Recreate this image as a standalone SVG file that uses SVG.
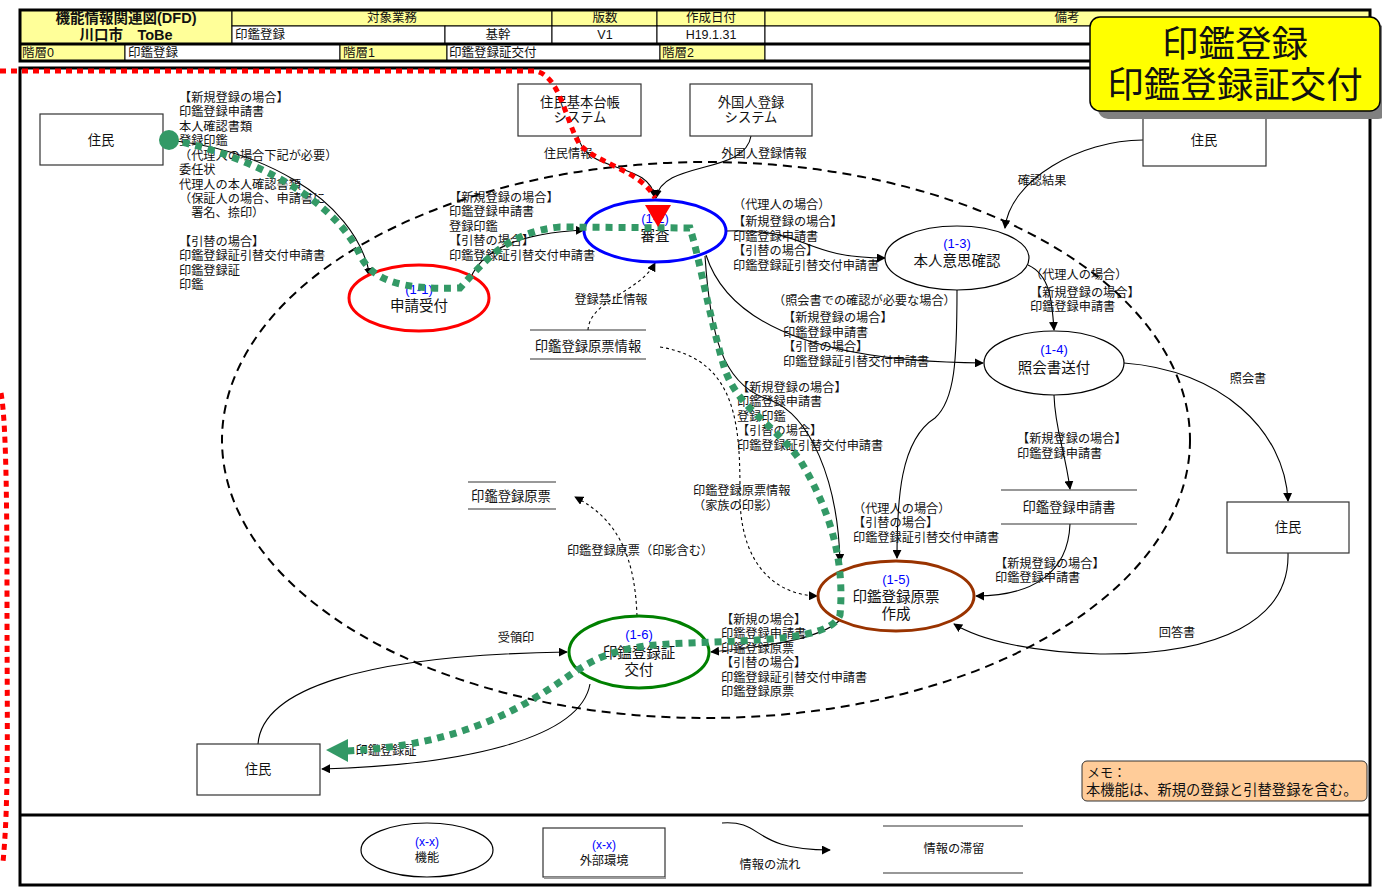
<svg xmlns="http://www.w3.org/2000/svg" width="1382" height="887" viewBox="0 0 1382 887">
  <style>
    text { font-family: "Liberation Sans", "Noto Sans CJK JP", "Noto Sans CJK SC", sans-serif; fill: #111; }
    .hd { font-size: 12.5px; }
    .hdb { font-size: 14.5px; font-weight: bold; }
    .lb { font-size: 12.2px; }
    .nd { font-size: 14.5px; }
    .bx { font-size: 13.3px; }
    .id { font-size: 13px; fill: #0000FF; }
    .c { text-anchor: middle; }
    .cell { stroke: #000; stroke-width: 1; }
    .yel { fill: #FFFF99; }
    .wht { fill: #FFFFFF; }
    .ext { fill: #fff; stroke: #333; stroke-width: 1.2; }
    .store { stroke: #333; stroke-width: 1.2; }
    .flow { fill: none; stroke: #000; stroke-width: 1.1; marker-end: url(#arr); }
    .dflow { fill: none; stroke: #000; stroke-width: 1.1; stroke-dasharray: 3 3; marker-end: url(#arr); }
    .green { fill: none; stroke: #339966; stroke-width: 7; stroke-dasharray: 7 6; }
    .red { fill: none; stroke: #FF0000; stroke-width: 5; stroke-dasharray: 6 5; }
  </style>
  <defs>
    <marker id="arr" viewBox="0 0 10 10" refX="9" refY="5" markerWidth="9" markerHeight="9" markerUnits="userSpaceOnUse" orient="auto">
      <path d="M0,0 L10,5 L0,10 z" fill="#000"/>
    </marker>
  </defs>

  <rect x="0" y="0" width="1382" height="887" fill="#fff"/>

  <!-- header table -->
  <g id="header">
    <rect class="cell yel" x="20" y="10" width="212" height="34"/>
    <rect class="cell yel" x="232" y="10" width="320" height="16"/>
    <rect class="cell yel" x="552" y="10" width="105" height="16"/>
    <rect class="cell yel" x="657" y="10" width="108" height="16"/>
    <rect class="cell yel" x="765" y="10" width="605" height="16"/>
    <rect class="cell wht" x="232" y="26" width="213" height="18"/>
    <rect class="cell wht" x="445" y="26" width="107" height="18"/>
    <rect class="cell wht" x="552" y="26" width="105" height="18"/>
    <rect class="cell wht" x="657" y="26" width="108" height="18"/>
    <rect class="cell wht" x="765" y="26" width="605" height="18"/>
    <rect class="cell yel" x="20" y="44" width="105" height="17"/>
    <rect class="cell wht" x="125" y="44" width="215" height="17"/>
    <rect class="cell yel" x="340" y="44" width="107" height="17"/>
    <rect class="cell wht" x="447" y="44" width="213" height="17"/>
    <rect class="cell yel" x="660" y="44" width="105" height="17"/>
    <rect class="cell wht" x="765" y="44" width="605" height="17"/>
    <rect x="20" y="10" width="1350" height="51" fill="none" stroke="#000" stroke-width="3"/>
    <line x1="20" y1="44" x2="1370" y2="44" stroke="#000" stroke-width="3"/>
    <text class="hdb c" x="126" y="23"><tspan x="126" y="23">機能情報関連図(DFD)</tspan><tspan x="126" y="40">川口市　ToBe</tspan></text>
    <text class="hd c" x="392" y="22">対象業務</text>
    <text class="hd c" x="605" y="22">版数</text>
    <text class="hd c" x="711" y="22">作成日付</text>
    <text class="hd c" x="1067" y="22">備考</text>
    <text class="hd" x="235" y="39">印鑑登録</text>
    <text class="hd c" x="498" y="39">基幹</text>
    <text class="hd c" x="605" y="39">V1</text>
    <text class="hd c" x="711" y="39">H19.1.31</text>
    <text class="hd" x="22" y="57">階層0</text>
    <text class="hd" x="128" y="57">印鑑登録</text>
    <text class="hd" x="343" y="57">階層1</text>
    <text class="hd" x="449" y="57">印鑑登録証交付</text>
    <text class="hd" x="662" y="57">階層2</text>
  </g>

  <!-- main frame and legend separator -->
  <g id="frame">
    <rect x="20" y="68" width="1350" height="817" fill="none" stroke="#000" stroke-width="3"/>
    <line x1="20" y1="815" x2="1370" y2="815" stroke="#000" stroke-width="3"/>
  </g>

  <!-- system boundary -->
  <ellipse id="boundary" cx="706" cy="440" rx="484" ry="278" fill="none" stroke="#000" stroke-width="2" stroke-dasharray="9 6"/>

  <!-- connectors -->
  <g id="connectors">
    <path class="flow" d="M163,140 C250,145 355,195 370,276"/>
    <path class="flow" d="M470,280 C480,250 520,233 584,230"/>
    <path class="flow" d="M578,136 C585,175 650,160 655,198"/>
    <path class="flow" d="M751,136 C745,175 662,160 656,198"/>
    <path class="dflow" d="M588,330 C590,300 640,292 655,263"/>
    <path class="dflow" d="M660,347 C740,360 740,430 740,500 C742,570 780,595 817,596"/>
    <path class="flow" d="M726,231 C810,228 800,258 885,258"/>
    <path class="flow" d="M706,255 C730,330 830,362 983,363"/>
    <path class="flow" d="M705,256 C710,330 720,385 770,400 C810,415 838,480 840,562"/>
    <path class="flow" d="M957,290 C957,360 955,400 935,418 C900,440 897,500 897,558"/>
    <path class="flow" d="M1028,265 C1050,275 1052,300 1054,330"/>
    <path class="flow" d="M1143,140 C1080,140 1010,180 1005,228"/>
    <path class="flow" d="M1124,363 C1220,370 1285,430 1288,501"/>
    <path class="flow" d="M1054,395 C1055,430 1065,450 1070,489"/>
    <path class="flow" d="M1070,524 C1068,575 1030,596 976,596"/>
    <path class="flow" d="M1288,553 C1290,620 1220,655 1100,654 C1030,652 980,640 954,624"/>
    <path class="flow" d="M840,620 C820,640 760,647 711,652"/>
    <path class="dflow" d="M637,616 C635,560 620,520 575,497"/>
    <path class="flow" d="M258,744 C262,690 360,655 567,652"/>
    <path class="flow" d="M590,684 C580,740 460,765 322,769"/>
  </g>

  <!-- connector labels -->
  <g id="labels">
    <text class="lb" x="179" y="102">
      <tspan x="179" y="102">【新規登録の場合】</tspan>
      <tspan x="179" y="116">印鑑登録申請書</tspan>
      <tspan x="179" y="131">本人確認書類</tspan>
      <tspan x="179" y="145">登録印鑑</tspan>
      <tspan x="179" y="160">（代理人の場合下記が必要）</tspan>
      <tspan x="179" y="174">委任状</tspan>
      <tspan x="179" y="189">代理人の本人確認書類</tspan>
      <tspan x="179" y="203">（保証人の場合、申請書に</tspan>
      <tspan x="179" y="217">　署名、捺印）</tspan>
      <tspan x="179" y="246">【引替の場合】</tspan>
      <tspan x="179" y="260">印鑑登録証引替交付申請書</tspan>
      <tspan x="179" y="275">印鑑登録証</tspan>
      <tspan x="179" y="289">印鑑</tspan>
    </text>

    <text class="lb" x="449" y="202">
      <tspan x="449" y="202">【新規登録の場合】</tspan>
      <tspan x="449" y="216">印鑑登録申請書</tspan>
      <tspan x="449" y="231">登録印鑑</tspan>
      <tspan x="449" y="245">【引替の場合】</tspan>
      <tspan x="449" y="260">印鑑登録証引替交付申請書</tspan>
    </text>

    <text class="lb c" x="568" y="158">住民情報</text>
    <text class="lb c" x="764" y="158">外国人登録情報</text>
    <text class="lb c" x="611" y="304">登録禁止情報</text>

    <text class="lb" x="733" y="209">
      <tspan x="733" y="209">（代理人の場合）</tspan>
      <tspan x="733" y="226">【新規登録の場合】</tspan>
      <tspan x="733" y="241">印鑑登録申請書</tspan>
      <tspan x="733" y="255">【引替の場合】</tspan>
      <tspan x="733" y="270">印鑑登録証引替交付申請書</tspan>
    </text>

    <text class="lb" x="773" y="305">
      <tspan x="773" y="305">（照会書での確認が必要な場合）</tspan>
      <tspan x="783" y="322">【新規登録の場合】</tspan>
      <tspan x="783" y="337">印鑑登録申請書</tspan>
      <tspan x="783" y="351">【引替の場合】</tspan>
      <tspan x="783" y="366">印鑑登録証引替交付申請書</tspan>
    </text>

    <text class="lb" x="737" y="392">
      <tspan x="737" y="392">【新規登録の場合】</tspan>
      <tspan x="737" y="406">印鑑登録申請書</tspan>
      <tspan x="737" y="421">登録印鑑</tspan>
      <tspan x="737" y="435">【引替の場合】</tspan>
      <tspan x="737" y="450">印鑑登録証引替交付申請書</tspan>
    </text>

    <text class="lb" x="693" y="495">
      <tspan x="693" y="495">印鑑登録原票情報</tspan>
      <tspan x="693" y="510">（家族の印影）</tspan>
    </text>

    <text class="lb" x="853" y="513">
      <tspan x="853" y="513">（代理人の場合）</tspan>
      <tspan x="853" y="527">【引替の場合】</tspan>
      <tspan x="853" y="542">印鑑登録証引替交付申請書</tspan>
    </text>

    <text class="lb c" x="1042" y="185">確認結果</text>
    <text class="lb" x="1030" y="279">
      <tspan x="1030" y="279">（代理人の場合）</tspan>
      <tspan x="1030" y="297">【新規登録の場合】</tspan>
      <tspan x="1030" y="311">印鑑登録申請書</tspan>
    </text>
    <text class="lb c" x="1248" y="383">照会書</text>
    <text class="lb" x="1017" y="443">
      <tspan x="1017" y="443">【新規登録の場合】</tspan>
      <tspan x="1017" y="458">印鑑登録申請書</tspan>
    </text>
    <text class="lb" x="995" y="568">
      <tspan x="995" y="568">【新規登録の場合】</tspan>
      <tspan x="995" y="582">印鑑登録申請書</tspan>
    </text>
    <text class="lb c" x="1177" y="637">回答書</text>

    <text class="lb c" x="640" y="555">印鑑登録原票（印影含む）</text>

    <text class="lb" x="721" y="624">
      <tspan x="721" y="624">【新規の場合】</tspan>
      <tspan x="721" y="638">印鑑登録申請書</tspan>
      <tspan x="721" y="653">印鑑登録原票</tspan>
      <tspan x="721" y="667">【引替の場合】</tspan>
      <tspan x="721" y="682">印鑑登録証引替交付申請書</tspan>
      <tspan x="721" y="696">印鑑登録原票</tspan>
    </text>

    <text class="lb c" x="516" y="642">受領印</text>
    <text class="lb c" x="386" y="755">印鑑登録証</text>
  </g>

  <!-- external entities -->
  <g id="ext-resident-1"><rect class="ext" x="40" y="114" width="123" height="51"/><text class="bx c" x="101" y="145">住民</text></g>
  <g id="ext-juki"><rect class="ext" x="518" y="84" width="123" height="52"/><text class="bx c" x="580" y="107"><tspan x="580" y="107">住民基本台帳</tspan><tspan x="580" y="122">システム</tspan></text></g>
  <g id="ext-gaikokujin"><rect class="ext" x="690" y="84" width="122" height="52"/><text class="bx c" x="751" y="107"><tspan x="751" y="107">外国人登録</tspan><tspan x="751" y="122">システム</tspan></text></g>
  <g id="ext-resident-2"><rect class="ext" x="1143" y="114" width="123" height="52"/><text class="bx c" x="1204" y="145">住民</text></g>
  <g id="ext-resident-3"><rect class="ext" x="1227" y="502" width="122" height="51"/><text class="bx c" x="1288" y="532">住民</text></g>
  <g id="ext-resident-4"><rect class="ext" x="197" y="744" width="123" height="51"/><text class="bx c" x="258" y="774">住民</text></g>

  <!-- data stores -->
  <g id="store-genpyo-info">
    <line class="store" x1="530" y1="330" x2="646" y2="330"/><line class="store" x1="530" y1="359" x2="646" y2="359"/>
    <text class="bx c" x="588" y="351">印鑑登録原票情報</text>
  </g>
  <g id="store-shinseisho">
    <line class="store" x1="1001" y1="490" x2="1137" y2="490"/><line class="store" x1="1001" y1="524" x2="1137" y2="524"/>
    <text class="bx c" x="1069" y="512">印鑑登録申請書</text>
  </g>
  <g id="store-genpyo">
    <line class="store" x1="468" y1="482" x2="556" y2="482"/><line class="store" x1="468" y1="509" x2="556" y2="509"/>
    <text class="bx c" x="511" y="501">印鑑登録原票</text>
  </g>

  <!-- processes -->
  <g id="p1-1"><ellipse cx="419" cy="298" rx="70" ry="33" fill="#fff" stroke="#FF0000" stroke-width="3"/><text class="c" x="419" y="294"><tspan class="id" x="419" y="294">(1-1)</tspan><tspan class="nd" x="419" y="311">申請受付</tspan></text></g>
  <g id="p1-2"><ellipse cx="655" cy="231" rx="71" ry="31" fill="#fff" stroke="#0000FF" stroke-width="3"/><text class="c" x="655" y="223"><tspan class="id" x="655" y="223">(1-2)</tspan><tspan class="nd" x="655" y="241">審査</tspan></text></g>
  <g id="p1-3"><ellipse cx="957" cy="258" rx="72" ry="32" fill="#fff" stroke="#000" stroke-width="1.2"/><text class="c" x="957" y="248"><tspan class="id" x="957" y="248">(1-3)</tspan><tspan class="nd" x="957" y="266">本人意思確認</tspan></text></g>
  <g id="p1-4"><ellipse cx="1054" cy="363" rx="70" ry="32" fill="#fff" stroke="#000" stroke-width="1.2"/><text class="c" x="1054" y="354"><tspan class="id" x="1054" y="354">(1-4)</tspan><tspan class="nd" x="1054" y="373">照会書送付</tspan></text></g>
  <g id="p1-5"><ellipse cx="896" cy="596" rx="78" ry="35" fill="#fff" stroke="#993300" stroke-width="3"/><text class="c" x="896" y="584"><tspan class="id" x="896" y="584">(1-5)</tspan><tspan class="nd" x="896" y="602">印鑑登録原票</tspan><tspan class="nd" x="896" y="619">作成</tspan></text></g>
  <g id="p1-6"><ellipse cx="639" cy="652" rx="70" ry="36" fill="#fff" stroke="#008000" stroke-width="3"/><text class="c" x="639" y="639"><tspan class="id" x="639" y="639">(1-6)</tspan><tspan class="nd" x="639" y="658">印鑑登録証</tspan><tspan class="nd" x="639" y="675">交付</tspan></text></g>

  <!-- highlighted route -->
  <g id="route-green">
    <path class="green" d="M170,140 C230,150 330,190 360,255 C372,280 400,290 460,288 C490,255 510,232 560,227 L690,228 C700,260 710,320 725,370 C740,410 770,420 800,460 C830,510 845,560 840,615 C830,640 760,640 690,643 C620,645 600,655 570,675 C520,710 460,745 347,751"/>
    <circle cx="169" cy="140" r="10" fill="#339966"/>
    <polygon points="326,750 348,739 348,762" fill="#339966"/>
  </g>
  <g id="route-red">
    <path class="red" d="M0,71 L535,71 C560,75 565,120 580,145 C600,165 640,170 655,198"/>
    <polygon points="645,205 671,205 658,227" fill="#FF0000"/>
    <path class="red" d="M1,393 C6,420 7,500 7,600 C7,720 9,800 3,862"/>
  </g>

  <!-- title badge -->
  <g id="title">
    <rect x="1098" y="25" width="290" height="94" rx="10" fill="#808080"/>
    <rect x="1090" y="17" width="290" height="94" rx="10" fill="#FFFF00" stroke="#000" stroke-width="1.5"/>
    <text x="1235" y="57" style="font-size:36.5px;text-anchor:middle"><tspan x="1235" y="57">印鑑登録</tspan><tspan x="1235" y="98">印鑑登録証交付</tspan></text>
  </g>

  <!-- memo -->
  <g id="memo">
    <rect x="1082" y="761" width="285" height="40" rx="5" fill="#FFCC99" stroke="#333" stroke-width="1"/>
    <text x="1086" y="777"><tspan x="1087" y="777" style="font-size:13px">メモ：</tspan><tspan x="1086" y="795" style="font-size:14.3px">本機能は、新規の登録と引替登録を含む。</tspan></text>
  </g>

  <!-- legend -->
  <g id="legend">
    <ellipse cx="427" cy="850" rx="66" ry="27" fill="#fff" stroke="#000" stroke-width="1.2"/>
    <text class="c" x="427" y="847"><tspan class="id" x="427" y="846" style="font-size:12px">(x-x)</tspan><tspan class="lb" x="427" y="862">機能</tspan></text>
    <rect x="543" y="828" width="122" height="49" fill="#fff" stroke="#333" stroke-width="1.2"/>
    <line x1="544" y1="878" x2="666" y2="878" stroke="#999" stroke-width="2"/>
    <text class="c" x="604" y="850"><tspan class="id" x="604" y="849" style="font-size:12px">(x-x)</tspan><tspan class="lb" x="604" y="865">外部環境</tspan></text>
    <path class="flow" d="M722,823 C765,820 750,850 830,850"/>
    <text class="lb c" x="770" y="869">情報の流れ</text>
    <line class="store" x1="883" y1="826" x2="1023" y2="826"/>
    <line class="store" x1="883" y1="873" x2="1023" y2="873"/>
    <text class="lb c" x="954" y="853">情報の滞留</text>
  </g>
</svg>
